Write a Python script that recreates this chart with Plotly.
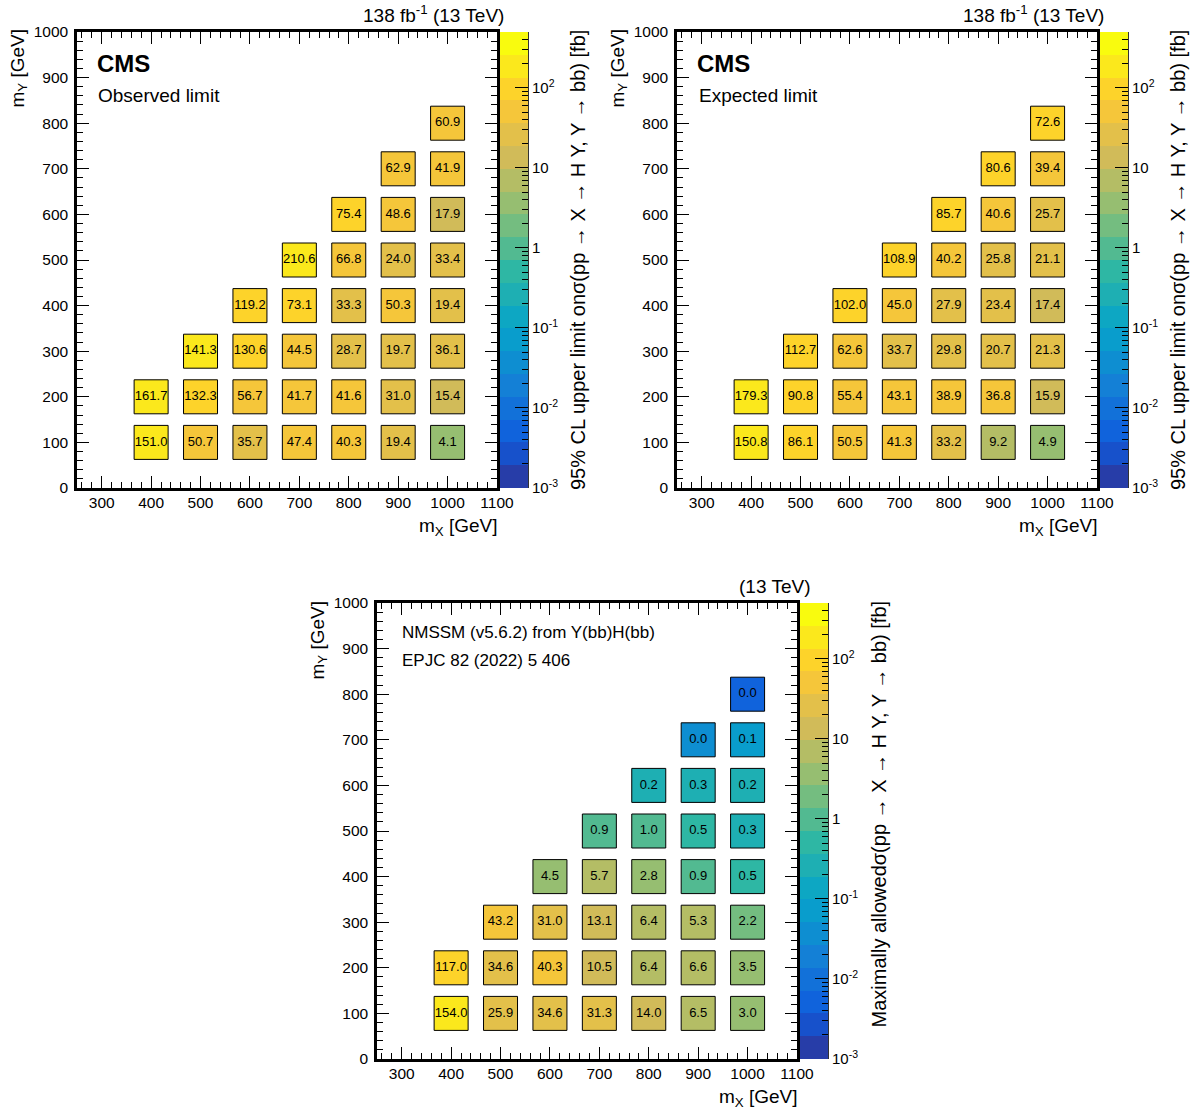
import numpy as np
import plotly.graph_objects as go

W, H = 1197, 1115

# ---------------- data ----------------
m_x = [400, 500, 600, 700, 800, 900, 1000]
m_y = [100, 200, 300, 400, 500, 600, 700, 800]

observed = [
    [151.0, 50.7, 35.7, 47.4, 40.3, 19.4, 4.1],
    [161.7, 132.3, 56.7, 41.7, 41.6, 31.0, 15.4],
    [None, 141.3, 130.6, 44.5, 28.7, 19.7, 36.1],
    [None, None, 119.2, 73.1, 33.3, 50.3, 19.4],
    [None, None, None, 210.6, 66.8, 24.0, 33.4],
    [None, None, None, None, 75.4, 48.6, 17.9],
    [None, None, None, None, None, 62.9, 41.9],
    [None, None, None, None, None, None, 60.9],
]

expected = [
    [150.8, 86.1, 50.5, 41.3, 33.2, 9.2, 4.9],
    [179.3, 90.8, 55.4, 43.1, 38.9, 36.8, 15.9],
    [None, 112.7, 62.6, 33.7, 29.8, 20.7, 21.3],
    [None, None, 102.0, 45.0, 27.9, 23.4, 17.4],
    [None, None, None, 108.9, 40.2, 25.8, 21.1],
    [None, None, None, None, 85.7, 40.6, 25.7],
    [None, None, None, None, None, 80.6, 39.4],
    [None, None, None, None, None, None, 72.6],
]

nmssm = [
    [154.0, 25.9, 34.6, 31.3, 14.0, 6.5, 3.0],
    [117.0, 34.6, 40.3, 10.5, 6.4, 6.6, 3.5],
    [None, 43.2, 31.0, 13.1, 6.4, 5.3, 2.2],
    [None, None, 4.5, 5.7, 2.8, 0.9, 0.5],
    [None, None, None, 0.9, 1.0, 0.5, 0.3],
    [None, None, None, None, 0.2, 0.3, 0.2],
    [None, None, None, None, None, 0.04, 0.07],
    [None, None, None, None, None, None, 0.007],
]

z_min, z_max = 1e-3, 500.0
n_contours = 20

# ---------------- palette (ROOT kBird, 20 contour bands) ----------------
bird_stops = [0.0, 0.125, 0.25, 0.375, 0.5, 0.625, 0.75, 0.875, 1.0]
bird_r = [0.2082, 0.0592, 0.0780, 0.0232, 0.1802, 0.5301, 0.8186, 0.9956, 0.9764]
bird_g = [0.1664, 0.3599, 0.5041, 0.6419, 0.7178, 0.7492, 0.7328, 0.7862, 0.9832]
bird_b = [0.5293, 0.8684, 0.8385, 0.7914, 0.6425, 0.4662, 0.3499, 0.1968, 0.0539]


def band_color(i):
    t = int((i + 0.99) * 255 / n_contours) / 254.0
    t = min(t, 1.0)
    r = np.interp(t, bird_stops, bird_r)
    g = np.interp(t, bird_stops, bird_g)
    b = np.interp(t, bird_stops, bird_b)
    return "rgb(%d,%d,%d)" % (round(r * 255), round(g * 255), round(b * 255))


colorscale = []
for i in range(n_contours):
    c = band_color(i)
    colorscale.append([i / n_contours, c])
    colorscale.append([(i + 1) / n_contours, c])

lz0, lz1 = np.log10(z_min), np.log10(z_max)

FONT = "Liberation Sans, Arial, Helvetica, sans-serif"


def px_x(p):
    return p / W


def px_y(p):
    return 1 - p / H


fig = go.Figure()

panels = [
    dict(data=observed, plot=(77, 497, 32, 488), cbar=(500, 528)),
    dict(data=expected, plot=(677, 1097, 32, 488), cbar=(1100, 1128)),
    dict(data=nmssm, plot=(377, 797, 603, 1059), cbar=(800, 828)),
]

major_dec = list(range(-3, 3))
major_txt = ["10<sup>-3</sup>", "10<sup>-2</sup>", "10<sup>-1</sup>", "1", "10", "10<sup>2</sup>"]
minor_vals = [np.log10(k * 10.0 ** d) for d in range(-3, 3) for k in range(2, 10)
              if np.log10(k * 10.0 ** d) < lz1]

layout_axes = {}
for k, p in enumerate(panels):
    x0, x1, y0, y1 = p["plot"]
    cx0, cx1 = p["cbar"]
    ax_main = 2 * k + 1
    ax_cb = 2 * k + 2
    xs, ys, vs = [], [], []
    for j, row in enumerate(p["data"]):
        for i, v in enumerate(row):
            if v is None:
                continue
            xs.append(m_x[i])
            ys.append(m_y[j])
            vs.append(v)
    xa = "x" if ax_main == 1 else "x%d" % ax_main
    ya = "y" if ax_main == 1 else "y%d" % ax_main
    fig.add_trace(go.Scatter(
        x=xs, y=ys, mode="markers+text",
        text=["%.1f" % v for v in vs],
        textposition="middle center",
        textfont=dict(family=FONT, size=13, color="black"),
        marker=dict(symbol="square", size=34,
                    color=[np.log10(v) for v in vs],
                    colorscale=colorscale, cmin=lz0, cmax=lz1,
                    line=dict(color="black", width=1), opacity=1),
        xaxis=xa, yaxis=ya, showlegend=False, hoverinfo="skip",
    ))
    # colour bar as heatmap
    edges = list(np.linspace(lz0, lz1, n_contours + 1))
    centers = [(edges[i] + edges[i + 1]) / 2 for i in range(n_contours)]
    fig.add_trace(go.Heatmap(
        x=[0, 1], y=edges, z=[[c] for c in centers],
        colorscale=colorscale, zmin=lz0, zmax=lz1, showscale=False,
        xaxis="x%d" % ax_cb, yaxis="y%d" % ax_cb, hoverinfo="skip",
    ))

    axis_common = dict(
        showline=True, linecolor="black", linewidth=2.5, mirror="ticks",
        ticks="inside", ticklen=12, tickwidth=1, tickcolor="black",
        showgrid=False, zeroline=False, automargin=False,
        tickfont=dict(family=FONT, size=15.5, color="black"),
    )
    layout_axes["xaxis" if ax_main == 1 else "xaxis%d" % ax_main] = dict(
        axis_common, domain=[px_x(x0), px_x(x1)], range=[250, 1100],
        tickvals=list(range(300, 1101, 100)), ticklabelstandoff=-1,
        minor=dict(ticks="inside", ticklen=6, dtick=20, tick0=0, tickcolor="black", tickwidth=1),
        anchor=("y" if ax_main == 1 else "y%d" % ax_main),
    )
    layout_axes["yaxis" if ax_main == 1 else "yaxis%d" % ax_main] = dict(
        axis_common, domain=[px_y(y1), px_y(y0)], range=[0, 1000],
        tickvals=list(range(0, 1001, 100)), ticklabelstandoff=3,
        minor=dict(ticks="inside", ticklen=6, dtick=20, tick0=0, tickcolor="black", tickwidth=1),
        anchor="x" if ax_main == 1 else "x%d" % ax_main,
    )
    layout_axes["xaxis%d" % ax_cb] = dict(
        domain=[px_x(cx0), px_x(cx1)], range=[0, 1], visible=False,
        anchor="y%d" % ax_cb, fixedrange=True, automargin=False,
    )
    layout_axes["yaxis%d" % ax_cb] = dict(
        domain=[px_y(y1), px_y(y0)], range=[lz0, lz1], side="right",
        anchor="x%d" % ax_cb, showgrid=False, zeroline=False, automargin=False,
        showline=True, linecolor="#333", linewidth=1,
        ticks="inside", ticklen=13, tickwidth=1, tickcolor="black",
        tickvals=major_dec, ticktext=major_txt,
        tickfont=dict(family=FONT, size=15, color="black"),
        minor=dict(ticks="inside", ticklen=6, tickvals=minor_vals, tickcolor="black", tickwidth=1),
        ticklabelstandoff=0,
    )

fig.update_layout(**layout_axes)

ann = []


def add_text(x, y, text, size, xanchor="left", yanchor="middle", angle=0, bold=False):
    if bold:
        text = "<b>%s</b>" % text
    ann.append(dict(x=px_x(x), y=px_y(y), xref="paper", yref="paper", text=text,
                    showarrow=False, xanchor=xanchor, yanchor=yanchor, textangle=angle,
                    font=dict(family=FONT, size=size, color="black")))


cb_title_lim = "95% CL upper limit onσ(pp → X → H Y, Y → bb) [fb]"
cb_title_max = "Maximally allowedσ(pp → X → H Y, Y → bb) [fb]"

# panel 1
add_text(95, 64, "CMS", 24, bold=True)
add_text(96, 95, "Observed limit", 19)
add_text(506, 14, "138 fb<sup>-1</sup> (13 TeV)", 19, xanchor="right")
add_text(18, 27, "m<sub>Y</sub> [GeV]", 19, xanchor="center", yanchor="top", angle=-90)
add_text(500, 527, "m<sub>X</sub> [GeV]", 19, xanchor="right")
add_text(578, 28, cb_title_lim, 20, xanchor="center", yanchor="top", angle=-90)
# panel 2
add_text(695, 64, "CMS", 24, bold=True)
add_text(697, 95, "Expected limit", 19)
add_text(1106, 14, "138 fb<sup>-1</sup> (13 TeV)", 19, xanchor="right")
add_text(618, 27, "m<sub>Y</sub> [GeV]", 19, xanchor="center", yanchor="top", angle=-90)
add_text(1100, 527, "m<sub>X</sub> [GeV]", 19, xanchor="right")
add_text(1178, 28, cb_title_lim, 20, xanchor="center", yanchor="top", angle=-90)
# panel 3
add_text(400, 632, "NMSSM (v5.6.2) from Y(bb)H(bb)", 17)
add_text(400, 660, "EPJC 82 (2022) 5 406", 17)
add_text(812, 586, "(13 TeV)", 19, xanchor="right")
add_text(318, 599, "m<sub>Y</sub> [GeV]", 19, xanchor="center", yanchor="top", angle=-90)
add_text(800, 1098, "m<sub>X</sub> [GeV]", 19, xanchor="right")
add_text(878, 599, cb_title_max, 20, xanchor="center", yanchor="top", angle=-90)

fig.update_layout(
    template="none",
    width=W, height=H, margin=dict(l=0, r=0, t=0, b=0, autoexpand=False),
    paper_bgcolor="white", plot_bgcolor="white",
    annotations=ann, showlegend=False,
    font=dict(family=FONT, color="black"),
)

fig.write_html("out.html",
               config={"displayModeBar": False},
               post_script="document.body.style.margin='0';document.body.style.overflow='hidden';")
